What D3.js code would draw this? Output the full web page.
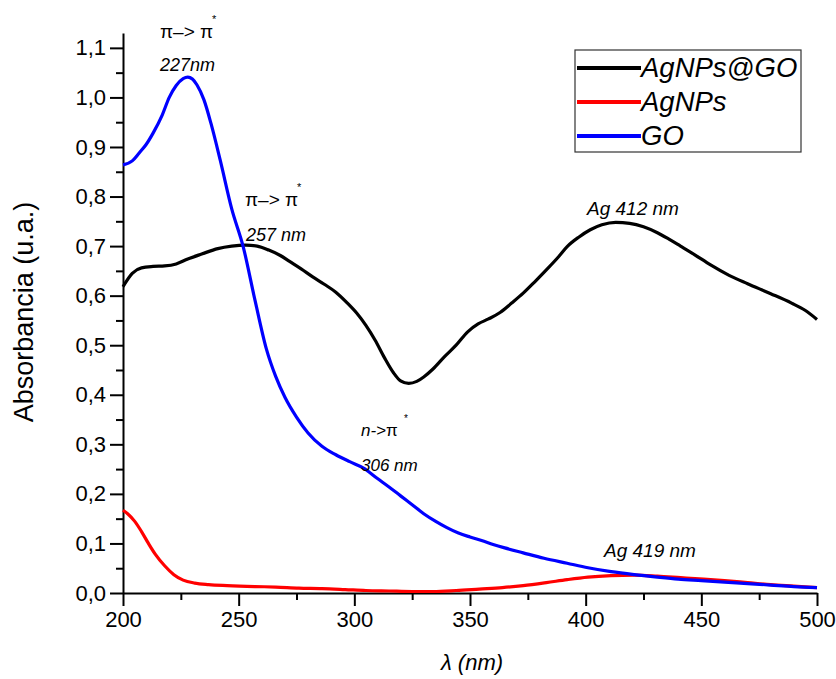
<!DOCTYPE html>
<html>
<head>
<meta charset="utf-8">
<script src="https://cdn.jsdelivr.net/npm/d3@7/dist/d3.min.js"></script>
<style>
  body { margin: 0; background: #fff; }
  svg { font-family: "Liberation Sans", Arial, sans-serif; }
  .axis path, .axis line { stroke: #000; stroke-width: 2; }
  .axis text { font-size: 22px; fill: #000; }
</style>
</head>
<body>
<svg width="836" height="679"></svg>
<script>
// AgNPs@GO (black)
var lambdaAgGO = [200,204,208,213,218,223,228,234,241,247,253,258,263,268,272,277,282,287,292,297,301,305,309,313,317,320,323.5,327,330,334,339,344,349,353.5,358,363,368,373,378,383,388,392,397,402,407,413,419,425,431,436,441,447,454,462,470,480,489,495,500];
var absAgGO = [0.618,0.645,0.656,0.659,0.660,0.664,0.674,0.684,0.695,0.700,0.702,0.700,0.692,0.681,0.669,0.654,0.638,0.623,0.607,0.585,0.565,0.540,0.510,0.475,0.444,0.428,0.423,0.427,0.436,0.452,0.477,0.500,0.527,0.543,0.553,0.566,0.585,0.605,0.628,0.652,0.677,0.699,0.718,0.733,0.743,0.748,0.746,0.739,0.727,0.714,0.700,0.683,0.662,0.641,0.624,0.604,0.585,0.570,0.552];

// AgNPs (red)
var lambdaAg = [200,202,205,208,211,214,218,222,226,231,237,245,257,266,276,286,296,305,315,325,334,344,354,364,373,383,392,401,411,421,431,441,451,460,470,480,490,500];
var absAg = [0.167,0.160,0.145,0.124,0.100,0.078,0.055,0.037,0.026,0.020,0.017,0.015,0.013,0.012,0.010,0.009,0.007,0.005,0.004,0.003,0.003,0.005,0.008,0.011,0.015,0.021,0.027,0.032,0.035,0.036,0.034,0.031,0.028,0.025,0.021,0.017,0.014,0.011];

// GO (blue)
var lambdaGO = [200,204,207,210,213,217,220,223,226,228,230,232,235,238,242,247,252,257,262,266,270,275,280,286,292,298,304,310,315,320,325,330,335,340,345,350,355,360,365,373,382,392,401,411,421,431,440,450,460,470,480,490,500];
var absGO = [0.864,0.872,0.888,0.905,0.928,0.965,1.000,1.024,1.038,1.041,1.037,1.025,0.995,0.948,0.874,0.775,0.698,0.592,0.492,0.437,0.395,0.355,0.323,0.296,0.279,0.265,0.252,0.231,0.214,0.196,0.178,0.160,0.145,0.132,0.121,0.113,0.106,0.098,0.091,0.081,0.070,0.060,0.051,0.043,0.037,0.032,0.028,0.025,0.022,0.019,0.016,0.013,0.011];

var xTicks = [200,250,300,350,400,450,500];
var xMinor = [225,275,325,375,425,475];
var yTicks = [0,0.1,0.2,0.3,0.4,0.5,0.6,0.7,0.8,0.9,1.0,1.1];
var yMinor = [0.05,0.15,0.25,0.35,0.45,0.55,0.65,0.75,0.85,0.95,1.05];

var seriesNames = ['AgNPs@GO', 'AgNPs', 'GO'];
var seriesColors = ['#000000', '#ff0000', '#0000ff'];

var svg = d3.select('svg');
// plot edges (note: "top" is taken by window.top)
var plotLeft = 123, plotRight = 817, plotTop = 33, plotBottom = 593;

var xScale = d3.scaleLinear().domain([200, 500]).range([plotLeft, plotRight]);
var yScale = d3.scaleLinear().domain([0, 1.13]).range([plotBottom, plotTop]);

var commaFmt = d3.formatLocale({decimal: ',', thousands: '.', grouping: [3], currency: ['', '']}).format('.1f');

// minor ticks first
svg.append('g').attr('class', 'axis')
    .attr('transform', 'translate(0,' + plotBottom + ')')
    .call(d3.axisBottom(xScale).tickValues(xMinor).tickSize(7).tickSizeOuter(0).tickFormat(''))
    .select('.domain').remove();
svg.append('g').attr('class', 'axis')
    .attr('transform', 'translate(' + plotLeft + ',0)')
    .call(d3.axisLeft(yScale).tickValues(yMinor).tickSize(7).tickSizeOuter(0).tickFormat(''))
    .select('.domain').remove();

// major
svg.append('g').attr('class', 'axis')
    .attr('transform', 'translate(0,' + plotBottom + ')')
    .call(d3.axisBottom(xScale).tickValues(xTicks).tickSize(13).tickSizeOuter(0).tickPadding(5));
svg.append('g').attr('class', 'axis')
    .attr('transform', 'translate(' + plotLeft + ',0)')
    .call(d3.axisLeft(yScale).tickValues(yTicks).tickSize(13).tickSizeOuter(0).tickPadding(4).tickFormat(commaFmt));

// curves
var line = d3.line()
    .x(function (d) { return xScale(d[0]); })
    .y(function (d) { return yScale(d[1]); })
    .curve(d3.curveMonotoneX);

var allSeries = [
    d3.zip(lambdaAgGO, absAgGO),
    d3.zip(lambdaAg, absAg),
    d3.zip(lambdaGO, absGO)
];
allSeries.forEach(function (pts, i) {
    svg.append('path')
        .datum(pts)
        .attr('d', line)
        .attr('fill', 'none')
        .attr('stroke', seriesColors[i])
        .attr('stroke-width', 3.2)
        .attr('stroke-linejoin', 'round');
});

// axis titles
svg.append('text')
    .attr('x', 472).attr('y', 670)
    .attr('text-anchor', 'middle')
    .style('font-size', '22px').style('font-style', 'italic')
    .text('λ (nm)');
svg.append('text')
    .attr('transform', 'translate(33,312) rotate(-90)')
    .attr('text-anchor', 'middle')
    .style('font-size', '27px')
    .text('Absorbancia (u.a.)');

// annotations
function note(x, y, txt, size, italic) {
    return svg.append('text')
        .attr('x', x).attr('y', y)
        .style('font-size', size + 'px')
        .style('font-style', italic ? 'italic' : 'normal')
        .text(txt);
}
note(160, 38, 'π–> π', 19, false);
note(212, 23, '*', 11, false);
note(160, 71, '227nm', 18, true);
note(245, 206, 'π–> π', 19, false);
note(297, 191, '*', 11, false);
note(246, 241, '257 nm', 18, true);
var t = note(361, 436, 'n->', 17, true);
t.append('tspan').style('font-style', 'normal').text('π');
note(404, 422, '*', 10, false);
note(361, 471, '306 nm', 17, true);
note(587, 215, 'Ag 412 nm', 19, true);
note(604, 557, 'Ag 419 nm', 19, true);

// legend
var legend = svg.append('g');
legend.append('rect')
    .attr('x', 575).attr('y', 50).attr('width', 226).attr('height', 102)
    .attr('fill', '#fff').attr('stroke', '#333').attr('stroke-width', 1.2);
seriesNames.forEach(function (name, i) {
    var ly = 68 + i * 34;
    legend.append('line')
        .attr('x1', 577).attr('x2', 641).attr('y1', ly).attr('y2', ly)
        .attr('stroke', seriesColors[i]).attr('stroke-width', 4);
    legend.append('text')
        .attr('x', 641).attr('y', ly + 9)
        .style('font-size', '27.5px').style('font-style', 'italic')
        .text(name);
});
</script>
</body>
</html>
